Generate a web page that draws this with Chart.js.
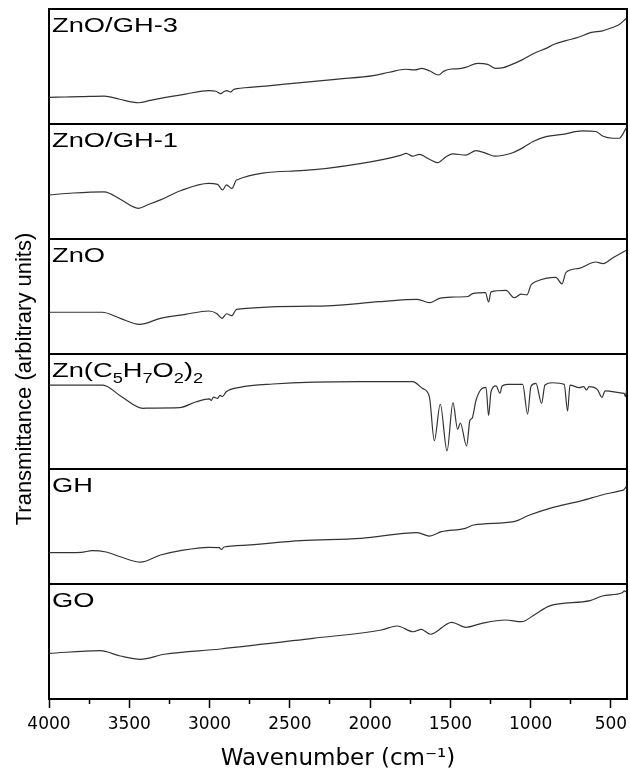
<!DOCTYPE html>
<html>
<head>
<meta charset="utf-8">
<script src="https://cdn.jsdelivr.net/npm/chart.js@4.4.1/dist/chart.umd.min.js"></script>
<style>
  html, body { margin: 0; padding: 0; background: #fff; }
  #wrap { width: 630px; height: 773px; }
</style>
</head>
<body>
<div id="wrap"><canvas id="ftirChart"></canvas></div>
<script>
// FTIR spectra, one panel each; transmittance read as fraction of panel height (0 = bottom, 1 = top)
const znoGh3Wn = [4000, 3900, 3800, 3656, 3560, 3443, 3370, 3306, 3150, 3006, 2960, 2931, 2910, 2893, 2869, 2850, 2831, 2650, 2430, 2200, 1980, 1880, 1779, 1720, 1679, 1630, 1574, 1540, 1505, 1460, 1405, 1330, 1268, 1218, 1170, 1131, 1050, 978, 900, 853, 780, 703, 628, 553, 500, 453, 403];
const znoGh3T = [0.232, 0.235, 0.238, 0.243, 0.215, 0.185, 0.205, 0.223, 0.26, 0.29, 0.285, 0.264, 0.282, 0.29, 0.278, 0.30, 0.307, 0.33, 0.36, 0.39, 0.42, 0.45, 0.476, 0.47, 0.484, 0.463, 0.426, 0.46, 0.476, 0.48, 0.493, 0.528, 0.519, 0.484, 0.49, 0.51, 0.56, 0.615, 0.66, 0.693, 0.725, 0.754, 0.794, 0.81, 0.835, 0.86, 0.92];

const znoGh1Wn = [4000, 3850, 3656, 3556, 3444, 3380, 3306, 3181, 3006, 2950, 2919, 2895, 2861, 2832, 2431, 2053, 1806, 1776, 1735, 1693, 1631, 1579, 1527, 1485, 1403, 1340, 1278, 1226, 1112, 1029, 988, 905, 801, 677, 594, 552, 490, 449, 403];
const znoGh1T = [0.383, 0.40, 0.41, 0.345, 0.267, 0.30, 0.34, 0.42, 0.484, 0.475, 0.426, 0.47, 0.44, 0.513, 0.594, 0.658, 0.73, 0.745, 0.72, 0.736, 0.693, 0.664, 0.716, 0.74, 0.73, 0.768, 0.745, 0.72, 0.75, 0.81, 0.846, 0.89, 0.91, 0.94, 0.935, 0.895, 0.876, 0.876, 0.97];

const znoWn = [4000, 3669, 3556, 3436, 3306, 3150, 3006, 2956, 2923, 2894, 2861, 2832, 2306, 1942, 1706, 1631, 1568, 1496, 1392, 1361, 1282, 1262, 1247, 1154, 1102, 1060, 1023, 998, 967, 843, 805, 780, 698, 594, 548, 490, 407];
const znoT = [0.363, 0.363, 0.31, 0.258, 0.31, 0.345, 0.374, 0.353, 0.31, 0.35, 0.333, 0.388, 0.417, 0.455, 0.475, 0.446, 0.484, 0.495, 0.50, 0.525, 0.533, 0.452, 0.54, 0.553, 0.49, 0.52, 0.515, 0.60, 0.63, 0.667, 0.61, 0.71, 0.745, 0.80, 0.786, 0.835, 0.90];

const znAcacWn = [4000, 3664, 3550, 3415, 3373, 3187, 3083, 3000, 2990, 2975, 2950, 2935, 2920, 2896, 2813, 2606, 2067, 1956, 1735, 1673, 1631, 1600, 1563, 1521, 1484, 1455, 1438, 1399, 1378, 1365, 1340, 1309, 1278, 1262, 1247, 1216, 1191, 1179, 1144, 1050, 1019, 998, 967, 932, 911, 864, 791, 770, 755, 698, 670, 652, 636, 584, 556, 536, 430, 418, 410, 403];
const znAcacT = [0.73, 0.73, 0.63, 0.528, 0.53, 0.533, 0.585, 0.61, 0.595, 0.625, 0.615, 0.64, 0.63, 0.672, 0.71, 0.739, 0.76, 0.76, 0.76, 0.70, 0.63, 0.246, 0.563, 0.157, 0.577, 0.345, 0.40, 0.20, 0.426, 0.44, 0.60, 0.693, 0.71, 0.464, 0.672, 0.722, 0.658, 0.72, 0.736, 0.736, 0.478, 0.72, 0.745, 0.571, 0.73, 0.75, 0.736, 0.504, 0.73, 0.707, 0.716, 0.687, 0.716, 0.69, 0.623, 0.68, 0.66, 0.658, 0.63, 0.68];

const ghWn = [4000, 3800, 3732, 3644, 3556, 3431, 3306, 3181, 3006, 2940, 2926, 2910, 2832, 2431, 2056, 1706, 1631, 1556, 1407, 1355, 1105, 1006, 881, 681, 556, 444, 420, 405];
const ghT = [0.272, 0.275, 0.29, 0.278, 0.237, 0.19, 0.252, 0.29, 0.319, 0.316, 0.30, 0.322, 0.333, 0.377, 0.397, 0.446, 0.417, 0.455, 0.484, 0.513, 0.542, 0.60, 0.658, 0.725, 0.774, 0.81, 0.82, 0.846];

const goWn = [4000, 3681, 3556, 3431, 3281, 2931, 2356, 1931, 1831, 1731, 1681, 1625, 1492, 1404, 1305, 1157, 1057, 978, 881, 630, 553, 430, 415, 405];
const goT = [0.397, 0.42, 0.374, 0.345, 0.389, 0.435, 0.528, 0.60, 0.635, 0.585, 0.606, 0.563, 0.667, 0.623, 0.658, 0.687, 0.672, 0.73, 0.81, 0.855, 0.896, 0.924, 0.94, 0.93];

// axis ticks
const majorTicks = [500, 1000, 1500, 2000, 2500, 3000, 3500, 4000];
const minorTicks = [750, 1250, 1750, 2250, 2750, 3250, 3750];

// panel labels, top to bottom; [text, 'sub'] marks a subscript
const panelLabels = [
  [['ZnO/GH-3']],
  [['ZnO/GH-1']],
  [['ZnO']],
  [['Zn(C'], ['5', 'sub'], ['H'], ['7', 'sub'], ['O'], ['2', 'sub'], [')'], ['2', 'sub']],
  [['GH']],
  [['GO']],
];

const spectra = [
  [znoGh3Wn, znoGh3T],
  [znoGh1Wn, znoGh1T],
  [znoWn, znoT],
  [znAcacWn, znAcacT],
  [ghWn, ghT],
  [goWn, goT],
];

const nPanels = spectra.length;

// each spectrum is shifted into its own band of the shared y axis
const datasets = spectra.map(([wn, t], i) => ({
  data: wn.map((w, k) => ({ x: w, y: nPanels - 1 - i + t[k] })),
  borderColor: '#333',
  borderWidth: 1.2,
  pointRadius: 0,
  cubicInterpolationMode: 'monotone',
  xAxisID: 'x',
  yAxisID: 'y',
}));

// panel names and the rotated y title
const panelText = {
  id: 'panelText',
  afterDraw(chart) {
    const { ctx, scales: { x, y } } = chart;
    ctx.save();
    ctx.fillStyle = '#000';
    ctx.textBaseline = 'alphabetic';
    panelLabels.forEach((parts, i) => {
      const top = y.getPixelForValue(nPanels - i);
      ctx.save();
      ctx.translate(x.left + 3, top + 23);
      ctx.scale(1.3, 1);
      let cx = 0;
      parts.forEach(([txt, kind]) => {
        const sub = kind === 'sub';
        ctx.font = (sub ? '14px' : '21px') + ' "Liberation Sans", Arial, sans-serif';
        ctx.fillText(txt, cx, sub ? 6 : 0);
        cx += ctx.measureText(txt).width;
      });
      ctx.restore();
    });

    ctx.translate(31, 379);
    ctx.rotate(-Math.PI / 2);
    ctx.textAlign = 'center';
    ctx.font = '22px "Liberation Sans", Arial, sans-serif';
    ctx.fillText('Transmittance (arbitrary units)', 0, 0);
    ctx.restore();
  }
};

new Chart(document.getElementById('ftirChart'), {
  type: 'line',
  data: { datasets: datasets },
  plugins: [panelText],
  options: {
    responsive: true,
    maintainAspectRatio: false,
    animation: false,
    layout: { padding: { top: 9, right: 3, left: 0, bottom: 0 } },
    plugins: {
      legend: { display: false },
      tooltip: { enabled: false },
    },
    scales: {
      x: {
        type: 'linear',
        position: 'bottom',
        reverse: true,
        min: 400,
        max: 4000,
        weight: 1,
        afterBuildTicks: (s) => { s.ticks = majorTicks.map(v => ({ value: v })); },
        afterFit: (s) => { s.height = 74; s.paddingLeft = 0; s.paddingRight = 0; },
        ticks: {
          autoSkip: false,
          maxRotation: 0,
          padding: 6,
          color: '#000',
          font: { family: 'DejaVu Sans', size: 17 },
          callback: (v) => String(v),
        },
        grid: { drawOnChartArea: false, tickLength: 9, tickWidth: 1.5, tickColor: '#000' },
        border: { color: '#000', width: 2 },
        title: {
          display: true,
          text: 'Wavenumber (cm\u207B\u00B9)',
          color: '#000',
          font: { family: 'DejaVu Sans', size: 23 },
          padding: { top: 0, bottom: 0 },
        },
      },
      // minor ticks every 250 cm-1
      xMinor: {
        type: 'linear',
        position: 'bottom',
        reverse: true,
        min: 400,
        max: 4000,
        weight: 0,
        afterBuildTicks: (s) => { s.ticks = minorTicks.map(v => ({ value: v })); },
        afterFit: (s) => { s.height = 0; s.paddingLeft = 0; s.paddingRight = 0; },
        ticks: { display: false },
        grid: { drawOnChartArea: false, tickLength: 5, tickWidth: 1.5, tickColor: '#000' },
        border: { display: false },
      },
      y: {
        type: 'linear',
        position: 'left',
        min: 0,
        max: nPanels,
        afterFit: (s) => { s.width = 49; },
        ticks: { stepSize: 1, display: false },
        grid: { color: '#000', lineWidth: 2, drawTicks: false },
        border: { color: '#000', width: 2 },
      },
      yRight: {
        type: 'linear',
        position: 'right',
        min: 0,
        max: nPanels,
        afterFit: (s) => { s.width = 0; },
        ticks: { display: false },
        grid: { drawOnChartArea: false, drawTicks: false },
        border: { color: '#000', width: 2 },
      },
    },
  },
});
</script>
</body>
</html>
